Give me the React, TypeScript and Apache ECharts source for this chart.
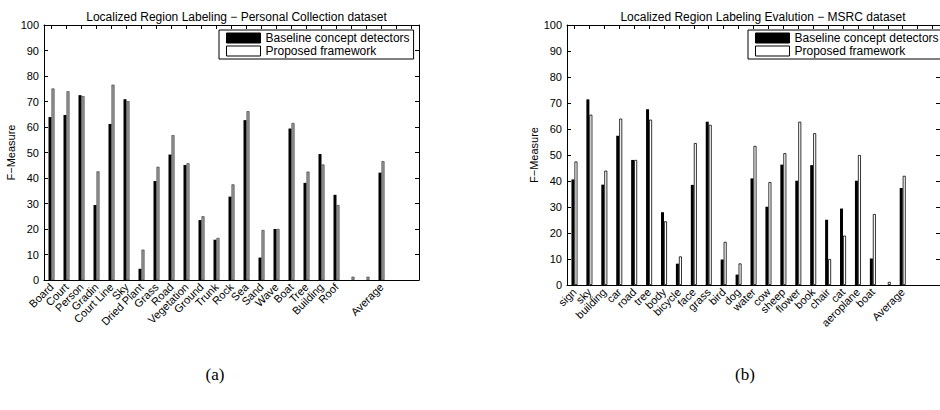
import React, { useEffect, useRef } from "react";
import * as echarts from "echarts";

const titleA = "Localized Region Labeling \u2212 Personal Collection dataset";
const titleB = "Localized Region Labeling Evalution \u2212 MSRC dataset";
const yName = "F\u2212Measure";
const seriesNames = ["Baseline concept detectors", "Proposed framework"];

const categoriesA = [
  "Board", "Court", "Person", "Gradin", "Court Line", "Sky", "Dried Plant", "Grass", "Road",
  "Vegetation", "Ground", "Trunk", "Rock", "Sea", "Sand", "Wave", "Boat", "Tree", "Building",
  "Roof", "", "", "Average", "", "",
];
const baselineA = [
  63.9, 64.7, 72.5, 29.4, 61.2, 70.9, 4.4, 38.8, 49.2, 45.1, 23.5, 15.8, 32.7, 62.7, 8.8, 20.0,
  59.4, 38.1, 49.4, 33.4, null, null, 42.1, null, null,
];
const proposedA = [
  75.1, 74.0, 72.1, 42.6, 76.6, 70.1, 11.9, 44.4, 56.8, 45.8, 25.0, 16.5, 37.5, 66.2, 19.6, 20.0,
  61.6, 42.5, 45.3, 29.4, 1.3, 1.3, 46.6, null, null,
];

const categoriesB = [
  "sign", "sky", "building", "car", "road", "tree", "body", "bicycle", "face", "grass", "bird",
  "dog", "water", "cow", "sheep", "flower", "book", "chair", "cat", "aeroplane", "boat", "",
  "Average", "", "",
];
const baselineB = [
  40.6, 71.4, 38.6, 57.4, 48.1, 67.6, 28.0, 8.2, 38.5, 62.8, 9.8, 4.0, 41.0, 30.1, 46.3, 40.1,
  46.1, 25.1, 29.4, 40.1, 10.2, null, 37.3, null, null,
];
const proposedB = [
  47.5, 65.5, 44.0, 64.0, 48.1, 63.6, 24.5, 11.0, 54.6, 61.6, 16.6, 8.3, 53.5, 39.6, 50.7, 62.8,
  58.4, 10.0, 19.0, 50.0, 27.3, 1.2, 42.0, null, null,
];

const FONT = "'Liberation Sans', Arial, Helvetica, sans-serif";

function makeAxes(cats: string[], gridIndex: number) {
  const x = [
    {
      type: "category",
      gridIndex,
      data: cats,
      position: "bottom",
      axisLine: { show: true, onZero: false, lineStyle: { color: "#000", width: 1 } },
      axisTick: { show: false },
      axisLabel: { show: true, interval: 0, rotate: 45, margin: 5, fontSize: 11, color: "#000", fontFamily: FONT },
      splitLine: { show: false },
    },
    {
      type: "category",
      gridIndex,
      data: cats,
      position: "top",
      axisLine: { show: true, onZero: false, lineStyle: { color: "#000", width: 1 } },
      axisTick: { show: true, inside: true, alignWithLabel: true, interval: 0, length: 4, lineStyle: { color: "#000" } },
      axisLabel: { show: false },
      splitLine: { show: false },
    },
  ];
  const y = [
    {
      type: "value",
      gridIndex,
      min: 0,
      max: 100,
      interval: 10,
      position: "left",
      name: yName,
      nameLocation: "middle",
      nameGap: 23,
      nameTextStyle: { fontSize: 11, color: "#000", fontFamily: FONT },
      axisLine: { show: true, onZero: false, lineStyle: { color: "#000", width: 1 } },
      axisTick: { show: true, inside: true, length: 4, lineStyle: { color: "#000" } },
      axisLabel: { show: true, fontSize: 11, color: "#000", margin: 5, fontFamily: FONT },
      splitLine: { show: false },
    },
    {
      type: "value",
      gridIndex,
      min: 0,
      max: 100,
      interval: 10,
      position: "right",
      axisLine: { show: true, onZero: false, lineStyle: { color: "#000", width: 1 } },
      axisTick: { show: true, inside: true, length: 4, lineStyle: { color: "#000" } },
      axisLabel: { show: false },
      splitLine: { show: false },
    },
  ];
  return { x, y };
}

export default function App() {
  const ref = useRef<HTMLDivElement>(null);

  useEffect(() => {
    if (!ref.current) return;
    const chart = echarts.init(ref.current, undefined, { renderer: "svg" });
    const a = makeAxes(categoriesA, 0);
    const b = makeAxes(categoriesB, 1);

    const legendData = [
      { name: seriesNames[0], itemStyle: { color: "#000", borderColor: "#000", borderWidth: 1 } },
      { name: seriesNames[1], itemStyle: { color: "#fff", borderColor: "#000", borderWidth: 1 } },
    ];
    const legendCommon = {
      orient: "vertical",
      icon: "rect",
      itemWidth: 34,
      itemHeight: 10,
      itemGap: 1,
      padding: [2, 4, 2, 7],
      backgroundColor: "#fff",
      borderColor: "#000",
      borderWidth: 1,
      textStyle: { fontSize: 12, color: "#000", fontFamily: FONT },
      selectedMode: false,
      data: legendData,
    };

    const titleStyle = { fontSize: 12, fontWeight: "normal", color: "#000", fontFamily: FONT };

    const option = {
      animation: false,
      textStyle: { fontFamily: FONT },
      title: [
        { text: titleA, left: 231.5, top: 6, textAlign: "center", textStyle: titleStyle },
        { text: titleB, left: 758, top: 6, textAlign: "center", textStyle: titleStyle },
      ],
      legend: [
        { ...legendCommon, left: 219, top: 30 },
        { ...legendCommon, left: 748, top: 30 },
      ],
      grid: [
        { left: 44, top: 25, width: 375, height: 255, show: false },
        { left: 567, top: 25, width: 382, height: 260, show: false },
      ],
      xAxis: [...a.x, ...b.x],
      yAxis: [...a.y, ...b.y],
      series: [
        {
          name: seriesNames[0],
          type: "bar",
          xAxisIndex: 0,
          yAxisIndex: 0,
          data: baselineA,
          barWidth: 3,
          barGap: "0%",
          itemStyle: { color: "#000" },
        },
        {
          name: seriesNames[1],
          type: "bar",
          xAxisIndex: 0,
          yAxisIndex: 0,
          data: proposedA,
          barWidth: 3,
          barGap: "0%",
          itemStyle: { color: "#9a9a9a", borderColor: "#333", borderWidth: 0.6 },
        },
        {
          name: seriesNames[0],
          type: "bar",
          xAxisIndex: 2,
          yAxisIndex: 2,
          data: baselineB,
          barWidth: 3,
          barGap: "0%",
          itemStyle: { color: "#000" },
        },
        {
          name: seriesNames[1],
          type: "bar",
          xAxisIndex: 2,
          yAxisIndex: 2,
          data: proposedB,
          barWidth: 3,
          barGap: "0%",
          itemStyle: { color: "#fff", borderColor: "#000", borderWidth: 0.8 },
        },
      ],
      graphic: [
        {
          type: "text",
          style: {
            text: "(a)",
            x: 215,
            y: 374,
            textAlign: "center",
            textVerticalAlign: "middle",
            font: "17px 'Liberation Serif', 'Times New Roman', serif",
            fill: "#000",
          },
        },
        {
          type: "text",
          style: {
            text: "(b)",
            x: 745,
            y: 374,
            textAlign: "center",
            textVerticalAlign: "middle",
            font: "17px 'Liberation Serif', 'Times New Roman', serif",
            fill: "#000",
          },
        },
      ],
    };

    chart.setOption(option as any);
    return () => chart.dispose();
  }, []);

  return (
    <div
      ref={ref}
      style={{ position: "fixed", left: 0, top: 0, width: 940, height: 410, background: "#fff" }}
    />
  );
}
